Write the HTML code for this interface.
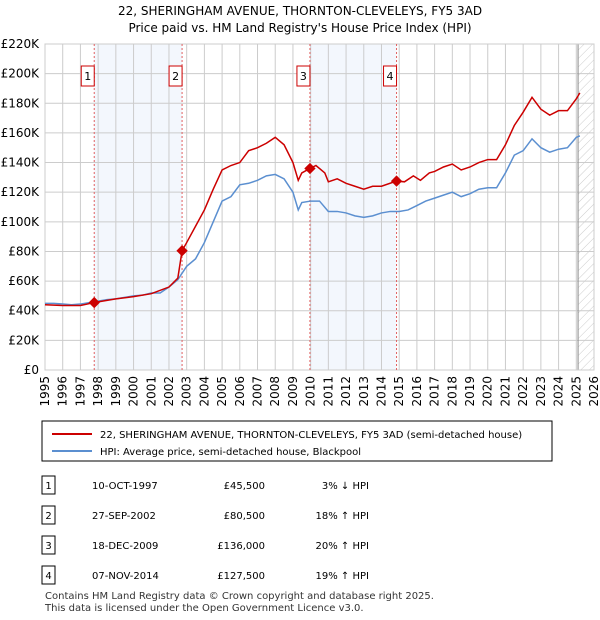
<!DOCTYPE html>
<html><head><meta charset="utf-8"><style>
body{margin:0;width:600px;height:620px;background:#fff;font-family:"Liberation Sans","DejaVu Sans",sans-serif;color:#000;overflow:hidden}
svg{position:absolute;left:0;top:0}
</style></head><body>
<svg width="600" height="620" font-family="'DejaVu Sans','Liberation Sans',sans-serif">
<text x="300" y="15" text-anchor="middle" font-size="12">22, SHERINGHAM AVENUE, THORNTON-CLEVELEYS, FY5 3AD</text>
<text x="300" y="32" text-anchor="middle" font-size="12">Price paid vs. HM Land Registry's House Price Index (HPI)</text>
<g id="plot"></g>
<g>
<rect x="42" y="421" width="510" height="40" fill="#fff" stroke="#000" stroke-width="1"/>
<line x1="52" y1="434" x2="92" y2="434" stroke="#cc0000" stroke-width="2"/>
<text x="100" y="438" font-size="10">22, SHERINGHAM AVENUE, THORNTON-CLEVELEYS, FY5 3AD (semi-detached house)</text>
<line x1="52" y1="451" x2="92" y2="451" stroke="#5b8fd0" stroke-width="2"/>
<text x="100" y="455" font-size="10">HPI: Average price, semi-detached house, Blackpool</text>
</g>
<g id="table" font-size="10"></g>
<text x="45" y="599" font-size="10" fill="#333">Contains HM Land Registry data © Crown copyright and database right 2025.</text>
<text x="45" y="611" font-size="10" fill="#333">This data is licensed under the Open Government Licence v3.0.</text>
</svg>
<script>
const yTicks=[0,20,40,60,80,100,120,140,160,180,200,220];
const years=[1995,1996,1997,1998,1999,2000,2001,2002,2003,2004,2005,2006,2007,2008,2009,2010,2011,2012,2013,2014,2015,2016,2017,2018,2019,2020,2021,2022,2023,2024,2025,2026];
const hpiT=[1995,1995.5,1996,1996.5,1997,1997.5,1998,1998.5,1999,1999.5,2000,2000.5,2001,2001.5,2002,2002.5,2003,2003.5,2004,2004.5,2005,2005.5,2006,2006.5,2007,2007.5,2008,2008.5,2009,2009.3,2009.5,2010,2010.5,2011,2011.5,2012,2012.5,2013,2013.5,2014,2014.5,2015,2015.5,2016,2016.5,2017,2017.5,2018,2018.5,2019,2019.5,2020,2020.5,2021,2021.5,2022,2022.5,2023,2023.5,2024,2024.5,2025,2025.2];
const hpiV=[45,45,44.5,44,44.5,45.5,46.5,47.5,48,49,50,50.5,52,52,56,61,70,75,86,100,114,117,125,126,128,131,132,129,120,108,113,114,114,107,107,106,104,103,104,106,107,107,108,111,114,116,118,120,117,119,122,123,123,133,145,148,156,150,147,149,150,157,158];
const redT=[1995,1996,1997,1997.78,1998,1999,2000,2001,2002,2002.5,2002.74,2003,2003.5,2004,2004.5,2005,2005.5,2006,2006.5,2007,2007.5,2008,2008.5,2009,2009.3,2009.5,2009.96,2010.3,2010.8,2011,2011.5,2012,2012.5,2013,2013.5,2014,2014.85,2015.3,2015.8,2016.2,2016.7,2017,2017.5,2018,2018.5,2019,2019.5,2020,2020.5,2021,2021.5,2022,2022.5,2023,2023.5,2024,2024.5,2025,2025.2];
const redV=[44,43.5,43.5,45.5,46,48,49.5,51.5,56,62,80.5,86,97,108,122,135,138,140,148,150,153,157,152,140,128,133,136,138,133,127,129,126,124,122,124,124,127.5,127,131,128,133,134,137,139,135,137,140,142,142,152,165,174,184,176,172,175,175,183,187];
const saleT=[1997.78,2002.74,2009.96,2014.85];
const saleV=[45.5,80.5,136,127.5];
const saleLabels=["1","2","3","4"];
const rowDates=["10-OCT-1997","27-SEP-2002","18-DEC-2009","07-NOV-2014"];
const rowPrices=["£45,500","£80,500","£136,000","£127,500"];
const rowHpi=["3% ↓ HPI","18% ↑ HPI","20% ↑ HPI","19% ↑ HPI"];
const L=45,R=594,T=44,B=370;
const X=t=>L+(t-1995)/31*(R-L);
const Y=v=>B-v/220*(B-T);
const NS="http://www.w3.org/2000/svg";
const plot=document.getElementById('plot');
function mk(tag,at,parent){const e=document.createElementNS(NS,tag);for(const k in at)e.setAttribute(k,at[k]);(parent||plot).appendChild(e);return e;}
for(let i=0;i<2;i++){const r=mk('rect',{x:X(saleT[2*i]),y:T,width:X(saleT[2*i+1])-X(saleT[2*i]),height:B-T,fill:'#eef3fc',opacity:0.7});

}
const defs=mk('defs',{});
const pat=mk('pattern',{id:'hatch',width:6,height:6,patternUnits:'userSpaceOnUse',patternTransform:'rotate(45)'},defs);
mk('line',{x1:0,y1:0,x2:0,y2:6,stroke:'#ccc','stroke-width':1},pat);
const hx=X(2025.1);
const hr=mk('rect',{x:hx,y:T,width:R-hx,height:B-T,fill:'url(#hatch)'});


yTicks.forEach(v=>{mk('line',{x1:L,x2:R,y1:Y(v),y2:Y(v),stroke:'#ccc','stroke-width':1});
const t=mk('text',{x:L-6,y:Y(v)+4,'text-anchor':'end','font-size':12});t.textContent=v===0?'£0':'£'+v+'K';

});
years.forEach(y=>{mk('line',{x1:X(y),x2:X(y),y1:T,y2:B,stroke:'#ccc','stroke-width':1});
const t=mk('text',{x:0,y:0,'text-anchor':'end','font-size':12,transform:`translate(${X(y)+4},${B+6}) rotate(-90)`});t.textContent=y;

});
mk('line',{x1:hx,x2:hx,y1:T,y2:B,stroke:'#888','stroke-width':1});
mk('rect',{x:L,y:T,width:R-L,height:B-T,fill:'none',stroke:'#ccc'});
saleT.forEach((t,i)=>{const l=mk('line',{x1:X(t),x2:X(t),y1:T,y2:B,stroke:'#e06060','stroke-width':1,'stroke-dasharray':'2,2'});


const b=mk('rect',{x:X(t)-13,y:66,width:13,height:20,fill:'#fff',stroke:'#cc0000'});


const tx=mk('text',{x:X(t)-6.5,y:80,'text-anchor':'middle','font-size':11});tx.textContent=saleLabels[i];});
const hp=mk('polyline',{points:hpiT.map((t,i)=>X(t)+','+Y(hpiV[i])).join(' '),fill:'none',stroke:'#5b8fd0','stroke-width':1.5});


const rp=mk('polyline',{points:redT.map((t,i)=>X(t)+','+Y(redV[i])).join(' '),fill:'none',stroke:'#cc0000','stroke-width':1.5});


saleT.forEach((t,i)=>{const c=mk('rect',{x:X(t)-4,y:Y(saleV[i])-4,width:8,height:8,fill:'#cc0000',transform:`rotate(45 ${X(t)} ${Y(saleV[i])})`});

});
const tb=document.getElementById('table');
const rowY=[485,515,545,575];
rowY.forEach((y,i)=>{const b=mk('rect',{x:42,y:y-9,width:13,height:18,fill:'#fff',stroke:'#000'},tb);


const n=mk('text',{x:48.5,y:y+4,'text-anchor':'middle'},tb);n.textContent=saleLabels[i];
const d=mk('text',{x:92,y:y+4},tb);d.textContent=rowDates[i];


const p=mk('text',{x:265,y:y+4,'text-anchor':'end'},tb);p.textContent=rowPrices[i];


const h=mk('text',{x:369,y:y+4,'text-anchor':'end'},tb);h.textContent=rowHpi[i];

});
</script>
</body></html>
